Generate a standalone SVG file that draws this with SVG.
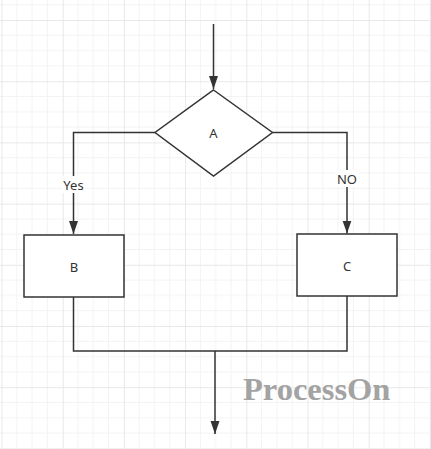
<svg xmlns="http://www.w3.org/2000/svg" width="431" height="449" viewBox="0 0 431 449">
<style>
.grid-minor{stroke:#f3f3f3;stroke-width:1;fill:none}
.grid-major{stroke:#e8e8e8;stroke-width:1;fill:none}
.shape{fill:#ffffff;stroke:#333333;stroke-width:1.5}
.conn{fill:none;stroke:#333333;stroke-width:1.5}
.lbl{font-family:"Noto Sans","Open Sans","DejaVu Sans",sans-serif;font-size:13px;fill:#333333;text-anchor:middle;dominant-baseline:central}
.wm{font-family:"Liberation Serif","Times New Roman",serif;font-weight:bold;font-size:32.5px;fill:#a3a3a3}
</style>
<defs>
<pattern id="grid" patternUnits="userSpaceOnUse" x="1.5" y="20" width="61.2" height="61.2">
<path class="grid-minor" d="M15.3 0V61.2M30.6 0V61.2M45.9 0V61.2M0 15.3H61.2M0 30.6H61.2M0 45.9H61.2"/>
<path class="grid-major" d="M0.5 0V61.2M0 0.5H61.2"/>
</pattern>
<marker id="arrow" markerUnits="userSpaceOnUse" markerWidth="14" markerHeight="10" refX="13" refY="4.5" orient="auto">
<path d="M0 0L13 4.5L0 9Z" fill="#333333"/>
</marker>
</defs>
<rect width="431" height="449" fill="#ffffff"/>
<rect width="431" height="449" fill="url(#grid)"/>
<g id="connectors">
<line class="conn" x1="213.5" y1="24" x2="213.5" y2="89" marker-end="url(#arrow)"/>
<polyline class="conn" points="155,132.5 73.5,132.5 73.5,234" marker-end="url(#arrow)"/>
<polyline class="conn" points="272.5,132.5 347,132.5 347,233.5" marker-end="url(#arrow)"/>
<polyline class="conn" points="73.5,297 73.5,351 347,351 347,296"/>
<line class="conn" x1="215" y1="351" x2="215" y2="434" marker-end="url(#arrow)"/>
<rect x="62" y="176" width="23" height="17" fill="#ffffff"/>
<text class="lbl" x="73.5" y="184.5">Yes</text>
<rect x="335" y="170" width="24" height="17" fill="#ffffff"/>
<text class="lbl" x="347" y="178.5">NO</text>
</g>
<g id="node-A">
<polygon class="shape" points="213.5,90 272.5,132.5 213.5,176 155,132.5"/>
<text class="lbl" x="213.5" y="133">A</text>
</g>
<g id="node-B">
<rect class="shape" x="24" y="235" width="100" height="62"/>
<text class="lbl" x="74" y="266.5">B</text>
</g>
<g id="node-C">
<rect class="shape" x="297" y="234" width="100" height="62"/>
<text class="lbl" x="347" y="265.5">C</text>
</g>
<text class="wm" x="243" y="400">ProcessOn</text>
</svg>
